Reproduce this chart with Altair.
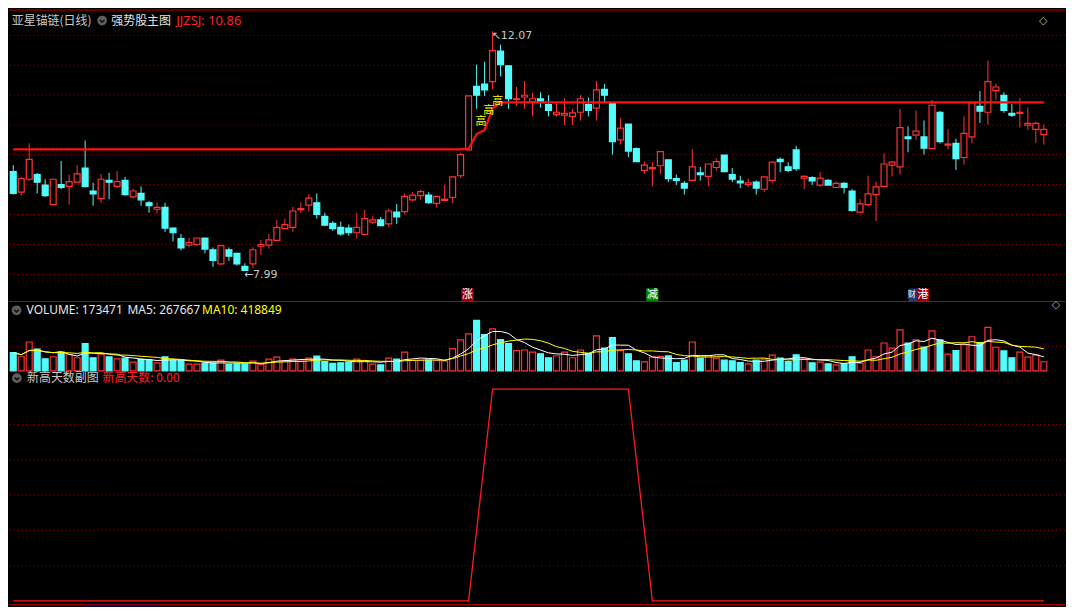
import altair as alt
import pandas as pd

# ---------------- data ----------------
opens = [9.68, 9.33, 9.55, 9.63, 9.45, 9.12, 9.46, 9.43, 9.50, 9.74,
         9.35, 9.22, 9.53, 9.43, 9.53, 9.25, 9.31, 9.15, 9.04, 9.07,
         8.72, 8.54, 8.43, 8.44, 8.55, 8.35, 8.11, 8.35, 8.29, 8.07,
         8.11, 8.41, 8.43, 8.51, 8.71, 8.73, 9.03, 9.11, 9.15, 8.92,
         8.80, 8.73, 8.72, 8.64, 8.61, 8.82, 8.86, 8.79, 8.99, 9.00,
         9.20, 9.27, 9.28, 9.14, 9.19, 9.24, 9.61, 10.05, 11.13, 11.17,
         11.21, 11.73, 11.48, 10.91, 10.95, 10.87, 10.92, 10.82, 10.65, 10.64,
         10.62, 10.69, 10.82, 10.76, 11.08, 10.84, 10.22, 10.49, 10.07, 9.70,
         9.73, 9.78, 9.88, 9.56, 9.48, 9.53, 9.66, 9.60, 9.75, 9.96,
         9.63, 9.52, 9.46, 9.50, 9.38, 9.53, 9.89, 9.76, 10.05, 9.57,
         9.58, 9.45, 9.53, 9.41, 9.48, 9.35, 8.99, 9.12, 9.29, 9.43,
         9.79, 9.76, 10.27, 10.30, 10.27, 10.07, 10.69, 10.13, 10.16, 9.92,
         10.27, 10.79, 10.69, 11.06, 10.98, 10.67, 10.67, 10.47, 10.40, 10.31]
highs = [9.79, 9.59, 10.16, 9.66, 9.55, 9.55, 9.86, 9.63, 9.79, 10.21,
         9.49, 9.64, 9.66, 9.69, 9.59, 9.39, 9.43, 9.18, 9.15, 9.15,
         8.73, 8.62, 8.55, 8.55, 8.55, 8.39, 8.43, 8.39, 8.30, 8.12,
         8.39, 8.52, 8.62, 8.86, 8.88, 9.08, 9.16, 9.30, 9.31, 8.98,
         8.84, 8.83, 8.78, 8.98, 9.03, 8.93, 8.91, 9.05, 9.13, 9.31,
         9.33, 9.37, 9.33, 9.26, 9.46, 9.59, 10.00, 10.97, 11.50, 11.55,
         12.07, 11.84, 11.49, 11.12, 11.22, 11.02, 11.03, 10.98, 10.85, 10.93,
         10.75, 10.98, 10.94, 11.22, 11.17, 10.86, 10.59, 10.49, 10.09, 9.85,
         9.84, 10.02, 9.88, 9.63, 9.52, 10.06, 9.76, 9.81, 9.91, 9.96,
         9.74, 9.61, 9.56, 9.53, 9.59, 9.84, 9.92, 9.84, 10.12, 9.62,
         9.60, 9.67, 9.55, 9.51, 9.50, 9.38, 9.21, 9.61, 9.51, 9.99,
         9.86, 10.75, 10.45, 10.72, 10.55, 10.90, 10.71, 10.40, 10.24, 10.62,
         10.86, 11.05, 11.57, 11.18, 11.03, 10.83, 10.93, 10.77, 10.53, 10.48]
lows = [9.29, 9.27, 9.52, 9.31, 9.25, 9.12, 9.38, 9.12, 9.50, 9.41,
        9.10, 9.15, 9.21, 9.40, 9.27, 9.22, 9.10, 8.98, 8.97, 8.65,
        8.49, 8.34, 8.39, 8.42, 8.29, 8.06, 8.09, 8.16, 8.08, 7.99,
        8.04, 8.26, 8.37, 8.50, 8.71, 8.66, 8.98, 9.00, 8.88, 8.76,
        8.67, 8.59, 8.59, 8.54, 8.61, 8.79, 8.76, 8.74, 8.79, 8.95,
        9.17, 9.20, 9.13, 9.07, 9.19, 9.14, 9.57, 10.04, 10.75, 10.97,
        11.08, 11.30, 10.75, 10.80, 10.75, 10.62, 10.77, 10.62, 10.62, 10.47,
        10.47, 10.55, 10.62, 10.55, 10.86, 9.97, 10.14, 9.93, 9.85, 9.64,
        9.43, 9.64, 9.50, 9.45, 9.29, 9.53, 9.53, 9.43, 9.70, 9.68,
        9.50, 9.40, 9.42, 9.29, 9.33, 9.48, 9.67, 9.67, 9.69, 9.38,
        9.45, 9.42, 9.45, 9.40, 9.31, 9.00, 8.97, 9.09, 8.84, 9.43,
        9.60, 9.63, 10.01, 10.22, 9.97, 10.07, 10.16, 10.06, 9.71, 9.80,
        10.16, 10.51, 10.48, 10.90, 10.68, 10.61, 10.43, 10.39, 10.17, 10.14]
closes = [9.31, 9.56, 9.89, 9.50, 9.27, 9.55, 9.41, 9.51, 9.64, 9.43,
          9.30, 9.55, 9.50, 9.51, 9.29, 9.35, 9.20, 9.10, 9.07, 8.72,
          8.64, 8.38, 8.47, 8.55, 8.36, 8.17, 8.42, 8.24, 8.11, 8.00,
          8.35, 8.44, 8.52, 8.73, 8.78, 9.01, 9.05, 9.23, 8.95, 8.77,
          8.71, 8.62, 8.64, 8.73, 8.88, 8.86, 8.76, 9.01, 8.91, 9.26,
          9.28, 9.34, 9.15, 9.26, 9.21, 9.59, 9.97, 10.97, 10.98, 11.07,
          11.74, 11.50, 10.92, 10.92, 10.98, 10.92, 10.88, 10.72, 10.69, 10.67,
          10.68, 10.92, 10.72, 11.07, 10.98, 10.19, 10.42, 10.03, 9.85, 9.79,
          9.75, 10.02, 9.56, 9.53, 9.40, 9.76, 9.63, 9.81, 9.85, 9.68,
          9.55, 9.49, 9.49, 9.40, 9.59, 9.84, 9.85, 9.70, 9.73, 9.60,
          9.52, 9.57, 9.45, 9.48, 9.41, 9.02, 9.13, 9.30, 9.42, 9.81,
          9.84, 10.43, 10.24, 10.37, 10.08, 10.81, 10.19, 10.15, 9.90, 10.33,
          10.85, 10.71, 11.21, 11.12, 10.72, 10.64, 10.69, 10.50, 10.50, 10.40]
volumes = [346000, 269000, 550000, 416000, 230000, 269000, 358000, 307000, 250000, 518000,
           250000, 320000, 269000, 230000, 243000, 166000, 218000, 211000, 154000, 269000,
           205000, 205000, 128000, 128000, 147000, 147000, 205000, 122000, 134000, 128000,
           186000, 122000, 224000, 262000, 186000, 224000, 186000, 243000, 282000, 179000,
           141000, 154000, 166000, 224000, 192000, 128000, 115000, 243000, 224000, 358000,
           198000, 198000, 205000, 198000, 192000, 422000, 589000, 704000, 960000, 691000,
           800000, 595000, 518000, 384000, 397000, 358000, 326000, 250000, 288000, 358000,
           250000, 397000, 333000, 666000, 435000, 634000, 384000, 326000, 192000, 173000,
           262000, 275000, 288000, 160000, 205000, 550000, 243000, 288000, 243000, 205000,
           192000, 160000, 134000, 205000, 224000, 301000, 243000, 179000, 307000, 230000,
           154000, 166000, 134000, 115000, 134000, 269000, 147000, 397000, 269000, 531000,
           435000, 781000, 531000, 589000, 454000, 762000, 589000, 320000, 384000, 499000,
           650000, 540000, 830000, 450000, 380000, 250000, 356000, 260000, 299000, 173471]
# JJZSJ trail line of the main indicator
jjzsj = [10.06] * 57 + [10.07, 10.32, 10.39, 10.75] + [10.86] * 69
# 新高天数 sub-indicator
new_high_days = [0] * 58 + [1, 2] + [3] * 18 + [2, 1] + [0] * 50

price_grid = [12.00, 11.49, 10.98, 10.47, 9.97, 9.46, 8.95, 8.44, 7.93]
volume_grid = [460000]
indicator_grid = [0.5, 1.0, 1.5, 2.0, 2.5]

gao_idx = [58.55, 59.53, 60.64]
gao_price = [10.52, 10.72, 10.87]

marker_text = ["涨", "减", "财", "港"]
marker_idx = [56.86, 80.0, 112.83, 113.86]
marker_text_idx = [56.86, 80.0, 112.45, 113.86]
marker_size = [11, 11, 8, 11]
marker_color = ["#a00000", "#008c00", "#1c3c78", "#a00000"]

# ---------------- styling ----------------
W = 1058
H1, H2, H3 = 294, 69, 236
UP = "#ff3232"
DN = "#54fcfc"
GRID = "#8c0000"
SEP = "#c00000"
TRAIL = "#ff1010"
CJK = "Noto Sans CJK SC"
LAT = "Noto Sans"

XS = alt.Scale(domain=[-0.529, 131.65], nice=False, zero=False)
PS = alt.Scale(domain=[7.461, 12.455], nice=False, zero=False)
VS = alt.Scale(domain=[0, 1311000], nice=False, zero=False)
IS = alt.Scale(domain=[-0.078, 3.259], nice=False, zero=False)

n = len(closes)
df = pd.DataFrame({"i": list(range(n)), "o": opens, "h": highs, "l": lows,
                   "c": closes, "v": volumes, "j": jjzsj, "nh": new_high_days})
df["top"] = df[["o", "c"]].max(axis=1)
df["bot"] = df[["o", "c"]].min(axis=1)
df["x1"] = df["i"] - 0.37
df["x2"] = df["i"] + 0.37

UPCOND = "datum.c >= datum.o"


def X(f):
    return alt.X(f, scale=XS, axis=None)


def txt(s, x, y, color, size=12, font=CJK, align="left"):
    return alt.Chart(pd.DataFrame({"t": [s]})).mark_text(
        align=align, baseline="middle", color=color, fontSize=size, font=font
    ).encode(text="t:N", x=alt.value(x), y=alt.value(y))


def icon(x, y):
    d = pd.DataFrame({"a": [0]})
    circ = alt.Chart(d).mark_point(shape="circle", filled=True, color="#5e5e5e",
                                   size=95, opacity=1).encode(x=alt.value(x), y=alt.value(y))
    chev = alt.Chart(d).mark_point(shape="M-1,-0.45L0,0.45L1,-0.45", filled=False,
                                   color="#111111", strokeWidth=1.6, size=22,
                                   opacity=1).encode(x=alt.value(x), y=alt.value(y + 0.5))
    return [circ, chev]


def hline(y, width=W, color=SEP, sw=1.0):
    return alt.Chart(pd.DataFrame({"a": [0]})).mark_rule(color=color, strokeWidth=sw).encode(
        x=alt.value(0), x2=alt.value(width), y=alt.value(y))


base = alt.Chart(df)

# ---------------- main panel ----------------
grid_main = alt.Chart(pd.DataFrame({"g": price_grid})).mark_rule(
    color=GRID, strokeDash=[1, 3], strokeWidth=1).encode(y=alt.Y("g:Q", scale=PS, axis=None))

wicks = base.mark_rule(strokeWidth=1).encode(
    x=X("i:Q"), y=alt.Y("l:Q", scale=PS, axis=None), y2="h:Q",
    color=alt.condition(UPCOND, alt.value(UP), alt.value(DN)))

bodies = base.mark_rect(strokeWidth=1.2).encode(
    x=X("x1:Q"), x2="x2:Q", y=alt.Y("top:Q", scale=PS, axis=None), y2="bot:Q",
    fill=alt.condition(UPCOND, alt.value("#000000"), alt.value(DN)),
    stroke=alt.condition(UPCOND, alt.value(UP), alt.value(DN)))

trail = base.mark_line(color=TRAIL, strokeWidth=2.2).encode(
    x=X("i:Q"), y=alt.Y("j:Q", scale=PS, axis=None))

gao = alt.Chart(pd.DataFrame({"gi": gao_idx, "gp": gao_price, "t": ["高"] * 3})).mark_text(
    font=CJK, fontSize=11, color="#ffff00").encode(
    x=X("gi:Q"), y=alt.Y("gp:Q", scale=PS, axis=None), text="t:N")

hi_i = highs.index(max(highs))
lo_i = lows.index(min(lows))
hi_lab = alt.Chart(pd.DataFrame({"i": [hi_i], "p": [highs[hi_i]], "t": ["↖" + f"{highs[hi_i]:.2f}"]})).mark_text(
    align="left", baseline="middle", dx=-1, dy=5, font="DejaVu Sans", fontSize=11, color="#c8c8c8").encode(
    x=X("i:Q"), y=alt.Y("p:Q", scale=PS, axis=None), text="t:N")
lo_lab = alt.Chart(pd.DataFrame({"i": [lo_i], "p": [lows[lo_i]], "t": ["←" + f"{lows[lo_i]:.2f}"]})).mark_text(
    align="left", baseline="middle", dx=-1, dy=4, font="DejaVu Sans", fontSize=11, color="#c8c8c8").encode(
    x=X("i:Q"), y=alt.Y("p:Q", scale=PS, axis=None), text="t:N")

mk = pd.DataFrame({"t": marker_text, "mi": marker_idx, "ti": marker_text_idx,
                   "fs": marker_size, "col": marker_color})
mk["x1"] = mk["mi"] - 0.77
mk["x2"] = mk["mi"] + 0.77
mk_layers = []
for k in range(len(marker_text)):
    sub = mk.iloc[[k]]
    mk_layers.append(alt.Chart(sub).mark_rect().encode(
        x=X("x1:Q"), x2="x2:Q", y=alt.value(280.5), y2=alt.value(293),
        color=alt.Color("col:N", scale=None)))
    mk_layers.append(alt.Chart(sub).mark_text(font=CJK, fontSize=int(marker_size[k]), color="#ffffff",
                                              baseline="middle").encode(
        x=X("ti:Q"), y=alt.value(287), text="t:N"))

main_layers = [grid_main, wicks, bodies, trail, gao, hi_lab, lo_lab] + mk_layers + [
    hline(1.5), hline(293.5),
    txt("亚星锚链(日线)", 2.7, 12.2, "#c8c8c8"),
    *icon(93.3, 12.0),
    txt("强势股主图", 102.4, 12.2, "#e0e0e0"),
    txt("JJZSJ: 10.86", 167.5, 12.2, "#ff2020", size=13, font=LAT),
    txt("◇", 1036.3, 12.7, "#b0b0b0", size=11, font="DejaVu Sans", align="center"),
]
main = alt.layer(*main_layers).properties(width=W, height=H1)

# ---------------- volume panel ----------------
grid_vol = alt.Chart(pd.DataFrame({"g": volume_grid})).mark_rule(
    color=GRID, strokeDash=[1, 3], strokeWidth=1).encode(y=alt.Y("g:Q", scale=VS, axis=None))
vbars = base.mark_rect(strokeWidth=1.2).encode(
    x=X("x1:Q"), x2="x2:Q", y=alt.Y("v:Q", scale=VS, axis=None), y2=alt.datum(0),
    fill=alt.condition(UPCOND, alt.value("#000000"), alt.value(DN)),
    stroke=alt.condition(UPCOND, alt.value(UP), alt.value(DN)))
ma = base.transform_window(ma5="mean(v)", frame=[-4, 0], sort=[alt.SortField("i")]).transform_window(
    ma10="mean(v)", frame=[-9, 0], sort=[alt.SortField("i")])
ma5 = ma.mark_line(color="#ffffff", strokeWidth=1).encode(x=X("i:Q"), y=alt.Y("ma5:Q", scale=VS, axis=None))
ma10 = ma.mark_line(color="#ffff00", strokeWidth=1).encode(x=X("i:Q"), y=alt.Y("ma10:Q", scale=VS, axis=None))
vol_layers = [grid_vol, vbars, ma5, ma10,
              *icon(7.6, 8.3),
              txt("VOLUME: 173471", 17.6, 8.3, "#e6e6e6", font=LAT),
              txt("MA5: 267667", 118.7, 8.3, "#e6e6e6", font=LAT),
              txt("MA10: 418849", 193.4, 8.3, "#ffff00", font=LAT),
              txt("◇", 1049, 3.5, "#b0b0b0", size=11, font="DejaVu Sans", align="center")]
vol = alt.layer(*vol_layers).properties(width=W, height=H2)

# ---------------- indicator panel ----------------
grid_ind = alt.Chart(pd.DataFrame({"g": indicator_grid})).mark_rule(
    color=GRID, strokeDash=[1, 3], strokeWidth=1).encode(y=alt.Y("g:Q", scale=IS, axis=None))
nh_line = base.mark_line(color="#ff1a1a", strokeWidth=1.3).encode(
    x=X("i:Q"), y=alt.Y("nh:Q", scale=IS, axis=None))
scroll = alt.Chart(pd.DataFrame({"a": [0]})).mark_rect(color="#000088").encode(
    x=alt.value(74), x2=alt.value(150), y=alt.value(H3 - 1.6), y2=alt.value(H3))
ind_layers = [grid_ind, nh_line, hline(H3 - 1.8, sw=1.0), scroll,
              *icon(7.9, 7.3),
              txt("新高天数副图", 18.0, 7.3, "#c8c8c8"),
              txt("新高天数: 0.00", 93.6, 7.3, "#ff2020")]
ind = alt.layer(*ind_layers).properties(width=W, height=H3)

chart = alt.vconcat(main, vol, ind, spacing=0, bounds="flush",
                    background="#000000", padding=0).configure_view(stroke=None)

chart.save("out.html", embed_options={"renderer": "svg", "actions": False})
